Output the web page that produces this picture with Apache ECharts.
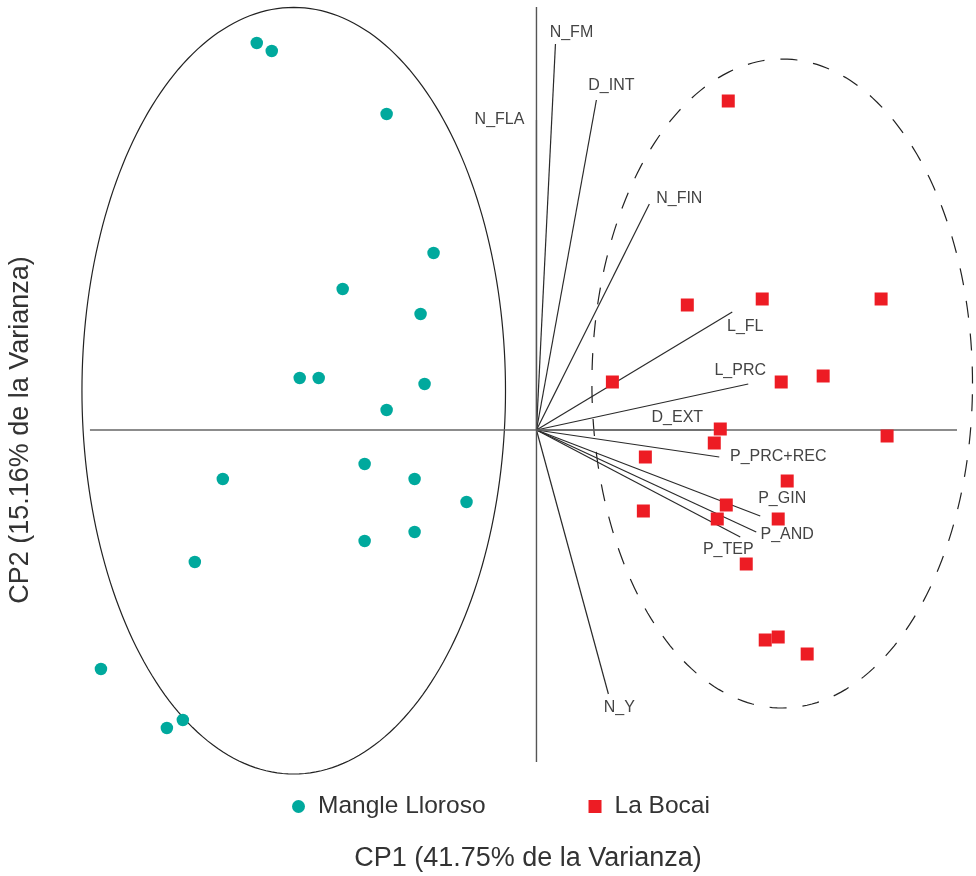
<!DOCTYPE html>
<html>
<head>
<meta charset="utf-8">
<script src="https://cdn.jsdelivr.net/npm/echarts@6/dist/echarts.min.js"></script>
<style>
html,body{margin:0;padding:0;background:#fff;}
#chart{width:976px;height:876px;}
</style>
</head>
<body>
<div id="chart"></div>
<script>
// ---- Data (PCA scores, arbitrary units) ----
const seriesNames = ['Mangle Lloroso', 'La Bocai'];

const mangleLloroso = [
  [-2.80, 3.87], [-2.65, 3.79], [-1.50, 3.16], [-1.03, 1.77], [-1.94, 1.41],
  [-1.16, 1.16], [-2.37, 0.52], [-2.18, 0.52], [-1.12, 0.46], [-1.50, 0.20],
  [-1.72, -0.34], [-3.14, -0.49], [-1.22, -0.49], [-0.70, -0.72], [-1.22, -1.02],
  [-1.72, -1.11], [-3.42, -1.32], [-4.36, -2.39], [-3.54, -2.90], [-3.70, -2.98]
];

const laBocai = [
  [1.92, 3.29], [1.51, 1.25], [2.26, 1.31], [3.45, 1.31], [0.76, 0.48],
  [2.45, 0.48], [2.87, 0.54], [1.84, 0.01], [1.78, -0.13], [3.51, -0.06],
  [1.09, -0.27], [2.51, -0.51], [1.90, -0.75], [2.42, -0.89], [1.81, -0.89],
  [1.07, -0.81], [2.10, -1.34], [2.29, -2.10], [2.42, -2.07], [2.71, -2.24]
];

// loading vectors: name, end x, end y
const vectorNames = ['N_FM', 'D_INT', 'N_FIN', 'N_FLA', 'L_FL', 'L_PRC', 'D_EXT',
                     'P_PRC+REC', 'P_GIN', 'P_AND', 'P_TEP', 'N_Y'];
const vectorX = [0.19, 0.60, 1.13, 0.00, 1.96, 2.12, 1.75, 1.83, 2.24, 2.20, 2.04, 0.72];
const vectorY = [3.86, 3.30, 2.26, 3.10, 1.18, 0.46, 0.00, -0.27, -0.86, -1.02, -1.07, -2.64];
// label anchor (data units)
const labelX = [0.35, 0.75, 1.43, -0.37, 2.09, 2.04, 1.41, 2.42, 2.46, 2.51, 1.92, 0.83];
const labelY = [3.97, 3.44, 2.31, 3.10, 1.03, 0.59, 0.12, -0.27, -0.69, -1.05, -1.20, -2.78];

// confidence ellipses: centre x, centre y, radius x, radius y
const ellipseML = [-2.43, 0.393, 2.12, 3.833];
const ellipseLB = [2.46, 0.465, 1.905, 3.245];

// reference axes through origin
const hAxisExtent = [-4.47, 4.21];
const vAxisExtent = [-3.32, 4.23];

const xTitle = 'CP1 (41.75% de la Varianza)';
const yTitle = 'CP2 (15.16% de la Varianza)';

// ---- Chart ----
const FONT = '"Liberation Sans", Arial, Helvetica, sans-serif';
const chart = echarts.init(document.getElementById('chart'), null, {renderer: 'canvas'});

function ellipseRender(style) {
  return function (params, api) {
    const cx = api.value(0), cy = api.value(1), rx = api.value(2), ry = api.value(3);
    const pts = [];
    const N = 240;
    for (let i = 0; i <= N; i++) {
      const t = 2 * Math.PI * i / N;
      pts.push(api.coord([cx + rx * Math.cos(t), cy + ry * Math.sin(t)]));
    }
    return {type: 'polyline', shape: {points: pts}, style: style, silent: true};
  };
}

const vectorData = vectorNames.map((n, i) => [vectorX[i], vectorY[i], labelX[i], labelY[i], n]);

const option = {
  animation: false,
  backgroundColor: '#ffffff',
  grid: {left: 37, top: 0, width: 940, height: 800, containLabel: false},
  xAxis: {type: 'value', min: -5, max: 4.4, show: false},
  yAxis: {type: 'value', min: -3.7, max: 4.3, show: false},
  legend: {
    left: 287, top: 789,
    itemWidth: 13, itemHeight: 13, itemGap: 103,
    data: seriesNames,
    textStyle: {fontFamily: FONT, fontSize: 24.5, color: '#333', padding: [0, 0, 0, 8]}
  },
  graphic: [
    {type: 'text', silent: true, x: 528, y: 859,
     style: {text: xTitle, font: '27px ' + FONT, fill: '#333',
             align: 'center', verticalAlign: 'middle'}},
    {type: 'text', silent: true, x: 21, y: 430, rotation: Math.PI / 2,
     style: {text: yTitle, font: '27px ' + FONT, fill: '#333',
             align: 'center', verticalAlign: 'middle'}}
  ],
  series: [
    {
      type: 'custom', silent: true, clip: false, z: 2,
      data: [ellipseML],
      encode: {x: 0, y: 1},
      renderItem: ellipseRender({fill: 'none', stroke: '#222', lineWidth: 1.2})
    },
    {
      type: 'custom', silent: true, clip: false, z: 2,
      data: [ellipseLB],
      encode: {x: 0, y: 1},
      renderItem: ellipseRender({fill: 'none', stroke: '#222', lineWidth: 1.2, lineDash: [17, 16]})
    },
    {
      type: 'custom', silent: true, clip: false, z: 3,
      data: vectorData,
      encode: {x: 0, y: 1},
      renderItem: function (params, api) {
        const o = api.coord([0, 0]);
        const e = api.coord([api.value(0), api.value(1)]);
        const l = api.coord([api.value(2), api.value(3)]);
        const name = vectorData[params.dataIndex][4];
        return {
          type: 'group',
          children: [
            {type: 'line', shape: {x1: o[0], y1: o[1], x2: e[0], y2: e[1]},
             style: {stroke: '#2a2a2a', lineWidth: 1.2}},
            {type: 'text', x: l[0], y: l[1],
             style: {text: name, font: '16px ' + FONT, fill: '#444',
                     align: 'center', verticalAlign: 'middle'}}
          ]
        };
      }
    },
    {
      type: 'line', silent: true, symbol: 'none',
      data: [[hAxisExtent[0], 0], [hAxisExtent[1], 0]],
      lineStyle: {color: '#666', width: 1.6}, z: 4
    },
    {
      type: 'line', silent: true, symbol: 'none',
      data: [[0, vAxisExtent[0]], [0, vAxisExtent[1]]],
      lineStyle: {color: '#555', width: 1.4}, z: 4
    },
    {
      name: seriesNames[0], type: 'scatter', symbol: 'circle', symbolSize: 12.5,
      data: mangleLloroso, itemStyle: {color: '#00A99D', opacity: 1}, z: 5
    },
    {
      name: seriesNames[1], type: 'scatter', symbol: 'rect', symbolSize: 13,
      data: laBocai, itemStyle: {color: '#ED1C24', opacity: 1}, z: 5
    }
  ]
};
chart.setOption(option);
</script>
</body>
</html>
